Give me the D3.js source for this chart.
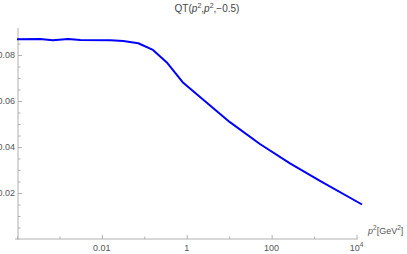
<!DOCTYPE html>
<html><head><meta charset="utf-8">
<script src="https://cdn.jsdelivr.net/npm/d3@7"></script>
<style>
body{margin:0;background:#fff;}
svg{display:block;font-family:"Liberation Sans",Arial,sans-serif;}
</style></head>
<body>
<script>
const p2 = [1e-4, 3.5e-4, 7e-4, 1.6e-3, 3.1e-3, 0.016, 0.032, 0.072, 0.16, 0.35, 0.8, 2.3, 10.4, 53, 271, 1380, 13500];
const qt = [0.0868, 0.0870, 0.0864, 0.0870, 0.0865, 0.0864, 0.0861, 0.0851, 0.0822, 0.0765, 0.0682, 0.0610, 0.0508, 0.0413, 0.0329, 0.0253, 0.0150];
const xMajor = [0.01, 1, 100, 1e4];
const xMajorLabels = ["0.01", "1", "100", "10^4"];
const xMinor = [1e-4, 1e-3, 0.1, 10, 1000];
const yMajor = [0.02, 0.04, 0.06, 0.08];
const yMajorLabels = ["0.02", "0.04", "0.06", "0.08"];
const yMinor = [0.005, 0.01, 0.015, 0.025, 0.03, 0.035, 0.045, 0.05, 0.055, 0.065, 0.07, 0.075, 0.085];

const W = 407, H = 254;
const svg = d3.select("body").append("svg").attr("width", W).attr("height", H);

const x = d3.scaleLog().domain([1e-4, 1e4]).range([17, 356.5]);
const y = d3.scaleLinear().domain([0, 0.08]).range([239, 55]);

const axisColor = "#b0b0b0", labelColor = "#555";

svg.append("line").attr("x1", 15).attr("x2", 358).attr("y1", y(0)).attr("y2", y(0))
  .attr("stroke", axisColor).attr("stroke-width", 1);
svg.append("line").attr("x1", 18).attr("x2", 18).attr("y1", 28).attr("y2", y(0) + 1)
  .attr("stroke", axisColor).attr("stroke-width", 1);

const gx = svg.append("g").attr("transform", `translate(0,${y(0)})`)
  .call(d3.axisTop(x).tickValues(xMajor).tickSize(4).tickFormat(""));
const gxm = svg.append("g").attr("transform", `translate(0,${y(0)})`)
  .call(d3.axisTop(x).tickValues(xMinor).tickSize(2.5).tickFormat(""));
[gx, gxm].forEach(g => { g.select(".domain").remove(); g.selectAll("line").attr("stroke", axisColor); });

xMajor.forEach((v, i) => {
  const lab = xMajorLabels[i];
  const t = svg.append("text").attr("x", x(v)).attr("y", 251).attr("text-anchor", "middle")
    .attr("font-size", 9).attr("fill", labelColor);
  if (lab.startsWith("10^")) {
    t.append("tspan").text("10");
    t.append("tspan").attr("font-size", 6.5).attr("dy", -4).text(lab.slice(3));
  } else t.text(lab);
});

const gy = svg.append("g").attr("transform", `translate(18,0)`)
  .call(d3.axisRight(y).tickValues(yMajor).tickSize(4).tickFormat(""));
const gym = svg.append("g").attr("transform", `translate(18,0)`)
  .call(d3.axisRight(y).tickValues(yMinor).tickSize(2.5).tickFormat(""));
[gy, gym].forEach(g => { g.select(".domain").remove(); g.selectAll("line").attr("stroke", axisColor); });

yMajor.forEach((v, i) => {
  svg.append("text").attr("x", 15).attr("y", y(v) + 3).attr("text-anchor", "end")
    .attr("font-size", 9).attr("fill", labelColor).text(yMajorLabels[i]);
});

svg.append("path").datum(p2.map((d, i) => [d, qt[i]]))
  .attr("fill", "none").attr("stroke", "#0000ff").attr("stroke-width", 2)
  .attr("stroke-linejoin", "round")
  .attr("d", d3.line().x(d => x(d[0])).y(d => y(d[1])));

const title = svg.append("text").attr("x", 207).attr("y", 12).attr("text-anchor", "middle")
  .attr("font-size", 10).attr("fill", "#444");
title.append("tspan").text("QT(");
title.append("tspan").attr("font-style", "italic").text("p");
title.append("tspan").attr("font-size", 7).attr("dy", -4).text("2");
title.append("tspan").attr("dy", 4).text(",");
title.append("tspan").attr("font-style", "italic").text("p");
title.append("tspan").attr("font-size", 7).attr("dy", -4).text("2");
title.append("tspan").attr("dy", 4).text(",\u22120.5)");

const al = svg.append("text").attr("x", 368).attr("y", 234).attr("font-size", 9).attr("fill", labelColor);
al.append("tspan").attr("font-style", "italic").text("p");
al.append("tspan").attr("font-size", 6.5).attr("dy", -4).text("2");
al.append("tspan").attr("dy", 4).text("[GeV");
al.append("tspan").attr("font-size", 6.5).attr("dy", -4).text("2");
al.append("tspan").attr("dy", 4).text("]");
</script>
</body></html>
